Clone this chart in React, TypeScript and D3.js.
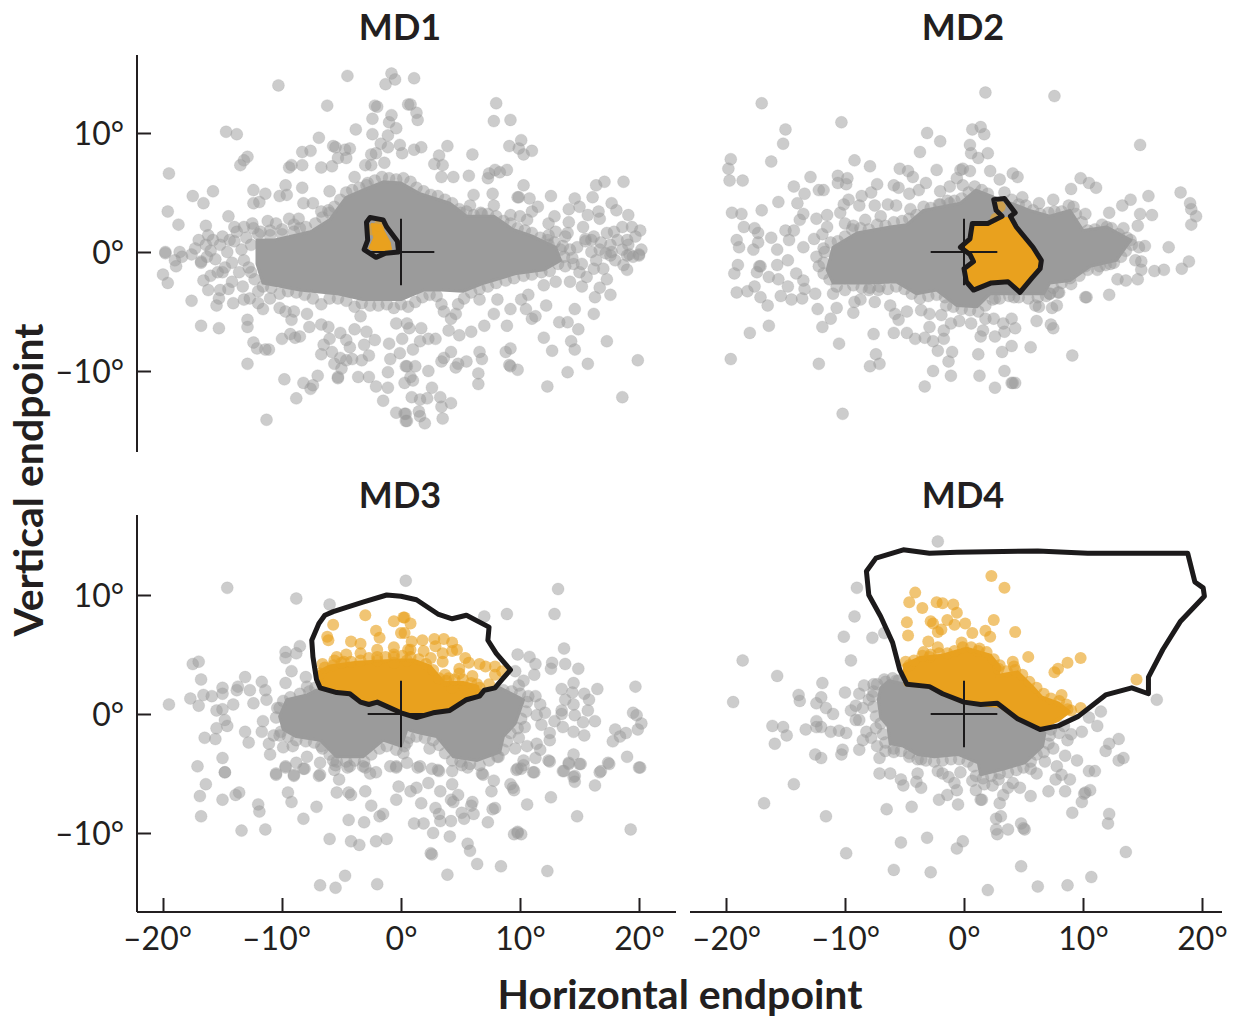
import React, { useEffect, useRef } from 'react';
import * as d3 from 'd3';

type Pt = [number, number];

const panelTitles = ['MD1', 'MD2', 'MD3', 'MD4'];
const xTicks = [-20, -10, 0, 10, 20];
const yTicks = [-10, 0, 10];

// scattered endpoints, degrees
const md1Gray: Pt[] = [
  [-4.5,14.8],[-10.3,14],[-0.8,15],[-0.5,14.5],[-1.3,14.1],[-6.2,12.3],[-2.2,12.3],[-2,12.2],[0.6,12.4],[-0.8,11.5],[-2.4,11.2],[-1,10.9],[-0.4,10.4],[-3.8,10.3],[-2.4,9.9],[-14.7,10.1],[-13.8,9.9],[-1.1,9.8],[-6.9,9.6],[-1.7,9.1],[-1.1,8.8],[-0.1,9],[-5.7,8.9],[-5.5,8.8],[-4.3,8.7],[-4.7,8.6],[-8.3,8.4],[-7.6,8.5],[-12.9,8],[-13.2,7.7],[-13.5,7.3],[-5.3,7.9],[-4.6,7.9],[-2.5,8.2],[-2.1,8.3],[0.1,8.3],[-9.2,7.3],[-9.4,7.1],[-8.3,7.3],[-6.7,7.1],[-5.8,7.2],[-3,7.3],[-2.5,7.3],[-1.4,7.5],[-19.5,6.6],[-3.9,6.3],[-2.8,5.8],[-9.7,5.6],[-8.3,5.4],[-12.4,5.2],[-11.4,4.9],[-15.8,5.1],[-6,5.1],[-17.5,4.7],[-16.6,4.1],[-10.2,4.7],[-9.6,4.8],[-12.4,4.1],[-11.9,4.2],[-8.2,4.1],[-7.4,4.1],[-19.6,3.4],[-6.7,3.4],[-6,3.3],[-14.5,3],[-18.7,2.3],[-16.4,2.2],[-9.4,2.8],[-8.6,2.8],[-13.2,2.1],[-12.4,2],[-16.2,1.4],[-17,1],[-19.8,0],[-18.6,0],[-17.6,-0.2],[-14,2.1],[-14.4,1],
  [1.1,14.6],[8,12.5],[0.8,12.4],[1.3,11.7],[1.4,11.1],[7.8,11],[9.2,11.1],[10.1,9.4],[9.1,8.9],[9.9,8.7],[11,8.5],[10.3,8.2],[3.9,8.9],[1.7,8.8],[1.1,8.6],[6,8.2],[3.2,8.1],[2.8,7.4],[3.5,7.3],[8.9,6.9],[7.9,6.9],[8.3,6.7],[7.4,6.6],[7.3,6.2],[5.7,6.4],[4.4,6.3],[3.4,6.3],[10.3,5.6],[16.4,5.6],[17.1,5.9],[18.7,5.9],[6.1,4.8],[7.7,4.9],[9.9,4.6],[9.8,4.6],[10.8,4.5],[12.6,4.7],[14.6,4.5],[16.1,4.6],[15,3.8],[14.1,3.6],[11.5,3.8],[17.7,4.1],[18.1,3.5],[19.1,3.1],[16.6,3.4],[16.7,2.8],[15.7,3.1],[5.8,3.9],[7.8,3.9],[5,3.3],[6.8,3.2],[9.2,3.1],[10,3],[11,3.4],[12.9,3],[14.1,2.5],[12.4,2.4],[10.6,2.7],[15.3,2.1],[20.1,1.8],[19.4,2.1],[18.6,2.1],[17.3,1.6],[17.9,1.7],[19.7,1.3],[19,1],[16.7,0.2],[17.7,0],[19.2,-0.2],[20.2,0.2],[20,-0.2],[15.5,1.1],[16,1],[14.2,0.2],[12.4,0.6],[13.8,1.3],
  [-19.8,-0.1],[-20,-1.9],[-19.6,-2.6],[-18.9,-1.2],[-19,-0.7],[-18.4,-0.4],[-16.8,-0.8],[-16.3,-0.4],[-16.6,-2.4],[-16,-2],[-16.2,-3.2],[-15.4,-1.7],[-15,-1.7],[-17.6,-4.1],[-15.5,-4.5],[-15.3,-3.9],[-15.2,-3.2],[-14.5,-3.1],[-14.1,-4.3],[-14.2,-2.5],[-13.3,-2.9],[-13.2,-4],[-12.7,-3.9],[-12,-3.3],[-12,-4.3],[-11.6,-4.8],[-11,-3.9],[-16.8,-6.2],[-15.3,-6.4],[-12.9,-5.7],[-12.9,-6.3],[-12.4,-7.6],[-12.1,-8.1],[-11.4,-8.2],[-11.1,-8.2],[-12.9,-9.4],[-9.8,-10.7],[-8.2,-11],[-8.8,-12.3],[-7.6,-11.5],[-7.4,-11.2],[-7,-10.4],[-11.3,-14.1],[-10,-7.3],[-9.3,-6.9],[-8.9,-7.2],[-8.5,-7.1],[-7.7,-6.3],[-10.2,-4.7],[-9.7,-5],[-9,-5],[-9.2,-5.7],[-7.9,-5.2],[-6.7,-6.1],[-6.1,-6.3],[-6,-7.3],[-6.5,-7.8],[-5.1,-6.8],[-4.6,-7.4],[-4.3,-8],[-6.7,-8.6],[-5.8,-8.4],[-5.6,-9.4],[-5.1,-8.9],[-4.6,-9.1],[-4.1,-9],[-5,-9.8],[-5.3,-10.6],[-5.3,-10.5],[-3.6,-10.5],[-2.7,-10.5],[-2.1,-11.3],[-1.1,-10.1],[-1.1,-11.4],[-1.5,-12.5],[-0.4,-13.5],[0.3,-13.6],[0.4,-14.2],[0.3,-11],[0.4,-9.6],[-0.9,-9],[-0.1,-8.5],[-1,-7.7],[-2.2,-7.4],[-3.1,-7.8],[-3.3,-9.1],[-2.7,-8.7],[-3.9,-6.5],[-2.9,-6.7],[-3.4,-5.4],[-0.4,-6],[0.1,-7.3],[0.5,-6],
  [0.7,-6.4],[1.7,-6.4],[0.5,-9.6],[1.2,-9.6],[2.3,-10],[0.8,-10.5],[1,-10.8],[2.6,-11.4],[0.9,-12.2],[1.6,-12.4],[2.2,-12.3],[3.3,-12.2],[4.2,-12.7],[3.4,-13],[3.5,-14],[1.5,-13.4],[1.6,-13.8],[0.4,-13.6],[0.5,-14.2],[2,-14.4],[2.9,-7.3],[2.3,-7.3],[1.6,-7.5],[1,-8.2],[4,-6.6],[4.9,-7],[5.9,-6.7],[7,-6.2],[4.2,-8.4],[3.4,-9.2],[3.6,-8.9],[4.8,-9.4],[5.5,-9.2],[4.6,-9.7],[6.6,-8.4],[6.8,-9],[6.5,-10.2],[6.5,-11.1],[8.8,-8.4],[9.2,-8.1],[9.2,-9.6],[9.1,-9.5],[9.8,-9.9],[8.9,-6.2],[9.2,-4.8],[10.5,-4.8],[11,-5.6],[11.3,-5.4],[12.2,-4.5],[12,-7.2],[12.7,-8.3],[13.3,-5.9],[14,-5.9],[14.9,-6.5],[14.6,-4.8],[16.2,-5.2],[14.3,-7.5],[14.6,-8.2],[15.7,-9.4],[14,-10.1],[12.3,-11.3],[17.3,-7.5],[19.9,-9.1],[18.6,-12.2],[17.6,-3.6],[16.3,-3.8],[16.7,-3],[17.3,-2.3],[17,-1.4],[19,-1.5],[18.7,-1.1],[20,-0.3],[19,-0.3],[17.6,-0.3],[14.5,-1],[14.2,-2.5],[13,-2.5],[12,-2.8],[15.2,-2.9],[15.6,-2.1],[16.2,-1.4],[10.7,-3.6],[10.1,-4],[8.1,-4],[7.8,-5.2],[6.6,-4],
  [-16.4,0.6],[-16,0.1],[-15.6,-0.6],[-15.2,0.6],[-15,1.3],[-14.6,0],[-14.2,-0.9],[-14,0.9],[-13.8,1.7],[-13.4,0.2],[-13.2,-0.7],[-13,1.2],[-12.8,-1.3],[-12.6,0.6],[-17.3,0.3],[-16.8,-0.9],[-15.8,1],[-14.8,-1.3],[-13.6,-1.7],[-12.5,2.4],[-11.8,1.7],[-11,1.8],[-10,1.9],[-9,2.3],[-8.5,2],[-11.2,2.6],[-10.5,2.4],
  [13.6,0.5],[14,1.6],[14.4,-0.5],[14.8,0.4],[15.2,-1],[15.5,0.9],[16,0],[16.2,1.3],[16.4,-0.7],[16.8,0.8],[17.2,-0.1],[17.6,0.6],[18,-0.7],[18.2,1],[18.6,0.2],[19.1,0.6],[19.5,-0.4],[13,1.7],[12.4,1.4],[13.8,-1.2],[15,-1.7],
];

const md2Gray: Pt[] = [
  [-17,12.5],[-10.3,10.9],[-15,10.3],[-15.2,9.1],[-3.1,10],[-2,9.3],[-3.7,8.4],[-19.6,7.8],[-16.2,7.6],[-19.8,7],[-9.2,7.7],[-7.9,7.2],[-19.7,6],[-18.6,6],[-5.4,7],[-4.7,6.8],[-4.3,6.3],[-2.3,6.9],[-0.3,6.9],[-12.9,6.3],[-10.6,6.4],[-9.8,6.2],[-10.6,5.8],[-9.9,5.7],[-14.3,5.5],[-13.4,4.9],[-12.2,5.2],[-11.8,5.2],[-7.3,5.7],[-5.9,5.6],[-5.5,5.4],[-3.2,5.8],[-3.8,5.2],[-4.6,4.9],[-7.8,5],[-8.6,4.7],[-9.7,4.4],[-10.1,4],[-15.6,4.2],[-17,3.5],[-19.5,3.3],[-18.7,3.2],[-14,4.1],[-10.4,3.3],[-11.5,3.1],[-13.5,3.2],[-13.8,2.7],[-8.8,3.9],[-7.5,3.9],[-6.4,4],[-5.7,3.9],[-4.5,3.6],[-2,5.1],[-1.2,5.5],[-2,4],[-1.2,4.1],[-18.5,2.1],[-17.6,2],[-17.3,1.6],[-19.1,1],[-18.9,0.4],[-17.3,0.8],[-17.7,0.2],[-16.2,1.2],[-15,1.8],[-14.3,1.8],[-14.7,1],[-12.4,2.8],[-11.5,2.1],[-10,2.4],[-9.3,2.2],[-8.3,2.7],[-7,3],[-19,-1.1],[-17.2,-1.2],[-15.7,-1.1],[-15.7,0.2],[-14.8,-0.7],[-13.5,0.4],
  [1.8,13.4],[7.6,13.1],[0.7,10.3],[1.4,10.5],[1.7,9.9],[0.5,9],[0.6,8.3],[1.2,7.9],[2,8.3],[14.8,9],[-0.1,7],[2.2,6.8],[0.5,6.8],[-0.6,6.2],[-0.1,5.6],[3,6.1],[4.1,6.6],[4.5,6.3],[9.8,6.2],[10.5,5.8],[11.1,5.4],[9,5.3],[18.2,5],[15.5,4.7],[14,4.4],[13.3,3.9],[19,4.1],[19.1,3.6],[19.5,3],[19.1,2.3],[12.2,3.3],[14.8,3.2],[15.8,3.1],[14.6,2.2],[13.4,2],[7.5,4.4],[4.9,4.6],[6.3,4.1],[7.1,3.3],[9.2,3.8],[10.2,3.2],[17.2,0.4],[15.2,0.5],[14.7,0.4],[14,1],[18.9,-0.8],[18.3,-1.4],[16.8,-1.5],[16,-1.6],[14.9,-0.8],[14.9,-1.5],[14.4,-0.7],[14.6,-2.3],[12.9,-2.3],[13.6,-2.4],[12.2,-3.6],[10.3,-3.8],[8,-3.4],[7.2,-3.5],[8.9,-2.2],[11.1,1.3],[12,2.1],[10.2,-1.2],[11.4,-1.2],[12.3,-1],
  [-19.3,-1.8],[-17.4,-1.7],[-17.1,-1.2],[-16.4,-2.1],[-15.6,-2.3],[-19.1,-3.4],[-18.2,-3.3],[-17.6,-2.9],[-17.1,-3.8],[-16.5,-4.5],[-15.4,-3.7],[-14.8,-2.9],[-14.5,-4],[-13.6,-3.9],[-12.5,-3.5],[-13.4,-3.1],[-14.1,-1.8],[-13.5,-2.4],[-12.3,-4.8],[-10.7,-4.7],[-11.2,-5.6],[-11.9,-6.3],[-16.4,-6.2],[-18,-6.8],[-19.6,-9],[-10.5,-7.7],[-12.2,-9.4],[-7.6,-6.9],[-7.4,-8.6],[-7.1,-9.4],[-7.9,-9.6],[-10.2,-13.6],[-5.9,-6.8],[-4.8,-6.8],[-4.1,-7.3],[-3.3,-7.2],[-2.6,-7.5],[-1.7,-7.3],[-2.2,-8.3],[-1,-8.4],[-1.3,-9.2],[-2.6,-10],[-1.1,-10.4],[-3.3,-11.3],[1.2,-8.6],[1.3,-10.4],[2.6,-11.4],[3.4,-10],[4,-11],[4.1,-11],[4.3,-11],[3.2,-8.4],[4,-7.9],[5.6,-8],[9.1,-8.7],[2.6,-7.1],[1.4,-7.1],[1.6,-6.6],[4.3,-6.4],[3.4,-6.7],[6.1,-5.8],[7.5,-6.4],[7.3,-6.1],[0.6,-6],[-0.4,-5.8],[-1.1,-6],[-1.7,-6.6],[-2.9,-6.3],[1.8,-5.6],[2.5,-5.6],[4,-5.6],[3.3,-6],[-9.3,-5.1],[-7.5,-4.2],[-9.2,-4.2],[-8.7,-4],[-6.2,-4.5],[-5.8,-5.2],[-5.5,-5.7],[-4.8,-5],[-3.6,-4.9],[-2.9,-5.2],[-1.9,-5.3],[-1.5,-4.5],[6,-4.5],[6.3,-4.6],[7.4,-4.7],[7.8,-4.5],[10.2,-3.8],[7.9,-3.4],[7.2,-3.5],[4.2,-3.8],[2.6,-3.9],[-11,-3.5],[-8,-3.2],[-7.2,-3.2],
  [-11.8,0.3],[-12.4,-0.4],[-12.2,-1.2],[-12.6,1.1],[-11.9,1.5],
];

const md3Gray: Pt[] = [
  [-14.6,10.6],[-8.8,9.7],[-6,9.2],[0.4,11.2],[-8.5,5.7],[-9.7,5.2],[-9.7,4.7],[-8.8,5.1],[-17.5,4.2],[-17,4.4],[-9.2,3.6],[-16.8,2.9],[-13.1,3.1],[-11.7,2.7],[-9.7,2.6],[-8,3.1],[-7.9,2.3],[-19.5,0.8],[-17.7,1.3],[-17,0.7],[-16.6,1.6],[-15.9,1.5],[-15,2.2],[-15,1.7],[-13.7,2.3],[-13.8,2],[-12.7,2],[-14.1,0.8],[-15.5,0.3],[-15,0.4],[-11.4,2],[-12.4,0.9],[-11.3,1.2],[-10.4,0.5],[-14.8,-0.5],[-15.5,-1.2],[-14.6,-1],[-16.5,-2],[-15.6,-2.1],[-13.1,-1.5],[-12.8,-2.4],[-11.7,-1.5],[-11.6,-0.6],[-10.7,-1.8],[-10.2,-1.8],[-11.1,-2.5],[-9.9,-2.8],[-9.1,-2.7],[-11,-3.4],[-7.9,-3.6],[-17.1,-4.4],[-15,-3.7],[-14.8,-4.9],[-8.8,-4.1],[-9.7,-4.5],[-10.5,-5.1],[-9,-5.1],[-8.2,-4.6],[-6.8,-4.1],[-6.8,-5.1],[-5.7,-3.9],[-5.6,-4.7],[-4.3,-4.4],[-3.2,-4.4],[-2.6,-5],[-0.9,-4.4],[-0.4,-4.4],[0.2,-3.3],[-6.7,-2.7],
  [13.2,10.5],[7,8.2],[8.9,8.4],[12.9,8.4],[13.7,5.5],[9.8,5],[10.8,4.8],[11.3,4.2],[12.7,4.3],[12.6,3.8],[13.8,4.2],[14.9,3.8],[9.6,3.6],[11.2,3.3],[10.3,2.8],[9.9,2.4],[14.5,2.6],[13.5,2.1],[16.5,2.1],[19.7,2.3],[14.4,1.8],[15.4,1.7],[10.7,1.5],[11.3,1.5],[15.8,1.2],[13.8,1.2],[11.7,0.8],[14.5,0.8],[12.1,0.1],[11.4,-0.1],[13.5,0.3],[13.5,0],[15.7,0.3],[14.6,-0.1],[15.3,-0.7],[16.3,-0.6],[11.8,-0.9],[12.9,-0.6],[13.6,-1.1],[10.4,-1.1],[19.5,0.1],[19.8,-0.1],[20.2,-0.8],[19.9,-1.3],[18,-1.3],[18.9,-1.6],[18.4,-1.9],[17.8,-2.3],[14.5,-1.5],[15.4,-1.8],[12.5,-1.6],[12.5,-2.2],[9.9,-2],[10.6,-2.7],[9.6,-2.9],[11.4,-2.5],[11.7,-3],[11.3,-3.7],[8.1,-3.6],[12.4,-3.9],[14.5,-3.4],[14.1,-4.1],[15,-4.2],[13.6,-4.8],[10.3,-3.9],[10.1,-4.6],[11.1,-4.9],[9.7,-4.7],[14.5,-5.3],[19,-3.6],[17.4,-4.1],[16.7,-4.9],[20,-4.5],[4.3,-4.8],[3.1,-4.7],[1.6,-4.4],[0.5,-4.1],[2.4,-2.9],[0.5,-2.4],[6.8,-5],
  [-14.8,-4.9],[-16.4,-5.9],[-16.9,-6.9],[-15,-7.2],[-13.9,-6.8],[-13.6,-6.6],[-16.8,-8.6],[-13.4,-9.8],[-11.4,-9.7],[-12,-7.6],[-11.9,-8.2],[-10.5,-5],[-9.7,-4.4],[-9,-5.2],[-8.1,-4.6],[-6.9,-5.2],[-9.5,-6.6],[-9.2,-7.4],[-7.1,-7.8],[-8.2,-8.8],[-5.2,-5.5],[-5.4,-6.6],[-4.4,-6.6],[-4.2,-6.8],[-3,-6.5],[-2.5,-7.7],[-4.4,-8.9],[-3.1,-9.1],[-1.8,-8.6],[-1.5,-8.4],[-0.4,-7.2],[-0.2,-6.1],[0.8,-6.5],[1.3,-6.2],[2.3,-5.8],[1.7,-7.5],[1.1,-9.2],[1.9,-9.2],[2.7,-10],[4.1,-10.3],[-6,-10.5],[-4.2,-10.7],[-3.5,-11],[-2.1,-10.7],[-1.2,-10.5],[-4.7,-13.6],[-6.8,-14.4],[-5.5,-14.6],[-2,-14.3],[2.6,-11.8],[2.5,-11.7],[5.6,-10.9],[5.8,-11.5],[6.4,-12.6],[8.4,-12.8],[3.9,-13.5],[12.3,-13.2],[9.8,-9.9],[9.5,-10.1],[10.1,-10.1],[9.8,-10],[19.3,-9.7],[14.8,-8.6],[12.6,-7],[10.6,-7.6],[9.5,-6.4],[9.2,-5.9],[9.4,-6.2],[7.8,-5.6],[7.6,-6.5],[7.9,-7.9],[7.7,-8],[7.3,-9.1],[6.1,-8.4],[6,-7.4],[5.9,-7.7],[4.2,-7.2],[4.4,-7.4],[4.8,-6.8],[4.3,-5.9],[2.9,-7.9],[3.2,-8.4],[3.3,-9],[4.2,-9],[5.1,-8.3],[5.3,-8.8],[3.3,-6.5],[16.3,-6],[20.1,-4.5],[17.5,-4.2],[16.8,-4.8],[15.1,-4.2],[14.1,-4.2],[13.7,-4.8],[14.6,-5.2],[14.6,-5.7],[12.5,-4],[11.2,-4.9],[9.8,-4.6],[10.3,-4.3],[6.9,-5.1],[5.1,-4.3],[5.6,-4.5],[2.6,-4.6],[3.2,-4.8],[1.4,-4.5],[-0.4,-4.5],[-2.1,-4.9],[-3,-4.5],[-4.5,-4.5],[-5.5,-4.3],
];

const md4Gray: Pt[] = [
  [-2.2,14.5],[-9,10.6],[-9.2,8.2],[-10.1,6.5],[-7.7,6.4],[-6.7,6.8],[-18.6,4.5],[-9.5,4.5],[-15.7,3.2],[-11.9,2.6],[-19.4,1],[-13.9,1.6],[-13.8,1.1],[-12,1.4],[-12.4,0.9],[-10,1.8],[-11.6,0.5],[-11,0],[-16.1,-1],[-15.2,-1.1],[-14.9,-1.8],[-15.9,-2.5],[-13.3,-1.3],[-12.4,-0.6],[-12.4,-1.1],[-12,-1.1],[-11.2,-1.5],[-10.5,-1.4],[-9.9,-1.6],[-9.5,0.3],[-9.1,-0.5],[-9.1,0.7],[-8.4,2.4],[-7.6,2.5],[-8.8,1.7],[-6.6,2.7],[-5.7,2.8],[16.2,1.2],[11.5,0.2],[10.5,-0.3],[11.2,-1],[9.9,-1.5],[8.7,-2.2],[9,-1.7],[13,-2.1],[12.2,-2.5],
  [-12.5,-3.4],[-12,-3.7],[-10.2,-3],[-10.3,-3.4],[-8.8,-3],[-7.1,-3.7],[-14.3,-5.9],[-16.8,-7.5],[-11.6,-8.6],[-7.1,-5],[-6.2,-5],[-5.9,-3.2],[-4.6,-3.6],[-3.6,-3.8],[-5.3,-5.5],[-5.1,-6],[-3.9,-5],[-4,-5.7],[-3.6,-6.2],[-2.2,-4.8],[-1.8,-5],[-1.3,-5.3],[-0.8,-5.8],[-0.6,-6.4],[-1.4,-6.8],[-2.1,-7.2],[-0.5,-7.6],[-6.5,-8],[-4.4,-7.8],[-0.3,-4.9],[0.7,-5.6],[1.7,-5.9],[2.4,-6],[2.9,-5.5],[1,-6.4],[1.4,-7.2],[1.5,-7.2],[3.3,-6.8],[3,-7.5],[3.7,-6.2],[4.1,-5.8],[4.7,-6.2],[5.6,-6.9],[7.1,-6.5],[8.5,-6.5],[7.7,-5.5],[8.9,-5.5],[8.2,-5.1],[7.8,-4.4],[6.1,-5],[5.6,-4.6],[6.8,-4],[8.5,-3.5],[9.5,-3.9],[7.5,-2.9],[10.5,-4.8],[11,-4.8],[11.9,-3.1],[13,-3.9],[13.4,-3.7],[10.6,-6.4],[10.1,-6.7],[10.2,-6.6],[9.9,-7.4],[9.1,-8.3],[12.2,-8.4],[12.1,-9.2],[3.1,-8.6],[2.7,-8.8],[3.7,-9.7],[2.7,-9.7],[2.8,-10.1],[4.8,-9.2],[5.1,-9.7],[5,-9.6],[-5.3,-10.8],[-3.1,-10.4],[-0.1,-10.7],[-0.6,-11.3],[-9.9,-11.7],[-5.9,-13.1],[-2.8,-13.3],[13.6,-11.6],[4.8,-12.8],[2,-14.8],[6.2,-14.5],[8.7,-14.4],[10.7,-13.7],
  [-8.5,0.5],[-8.8,-0.5],[-8.2,-1.5],[-7.8,-2],[-8.5,-2.2],[-8,1.2],[-7.6,1.9],[-7.4,-1.2],[-7.3,-2.7],[-6.6,-3.1],
];

// points along the rim of each overplotted middle
const md1Rim: Pt[] = [
  [-12,1.5],[-11,1.4],[-10,1.5],[-9,1.7],[-8,2.1],[-7.2,2.4],[-6.6,2.9],[-6.1,3.5],[-5.6,3.8],[-5.1,4.4],[-4.6,5],[-4.1,5.2],[-3.5,5.4],[-2.9,5.6],[-2.2,6],[-1.6,6.3],[-1,6.2],[-0.4,6.1],[0.2,6.2],[0.8,5.9],[1.3,5.4],[1.9,5.1],[2.5,4.8],[3.1,4.7],[3.7,4.4],[4.3,4.1],[4.9,3.6],[5.5,3.4],[6.1,3.1],[6.7,3.3],[7.3,3.2],[8,3],[8.6,2.6],[9.2,2.4],[9.8,2],[10.4,1.8],[11,1.6],[11.7,1.2],[12.3,1],[12.9,0.8],[13.4,0.2],[13.7,-0.4],
  [13.2,-1],[12.5,-1.6],[11.8,-1.7],[11,-1.9],[10.3,-2],[9.5,-2.2],[8.8,-2.4],[8,-2.6],[7.3,-2.9],[6.6,-3.1],[5.9,-3.4],[5.3,-3.9],[4.8,-4.4],[4.6,-5.2],[4.2,-5.6],[3.6,-5],[3.4,-4.4],[3,-3.7],[2.4,-3.6],[1.8,-3.8],[1.2,-4.2],[0.6,-4.6],[0,-4.4],[-0.6,-4.7],[-1.2,-4.4],[-1.9,-4.5],[-2.6,-4.5],[-3.3,-4.3],[-3.9,-4.6],[-4.6,-4.1],[-5.3,-3.9],[-6,-3.9],[-6.7,-4.4],[-7.4,-3.9],[-8.1,-3.6],[-8.8,-3.4],[-9.5,-3.3],[-10.2,-3.5],[-10.9,-3],[-11.6,-2.9],[-12.3,-2.3],[-12.6,-1.7],
];
const md2Rim: Pt[] = [
  [-11.8,-0.9],[-11.7,0],[-11.2,0.8],[-10.6,0.9],[-10,1.3],[-9.4,1.9],[-8.7,2],[-8,1.9],[-7.3,2.3],[-6.6,2.2],[-5.9,2.5],[-5.2,2.6],[-4.6,2.8],[-4,3.1],[-3.4,3.8],[-2.8,3.7],[-2.1,4],[-1.4,4.3],[-0.8,4.3],[-0.2,4.5],[0.4,5],[0.9,5.5],[1.5,5.2],[2,4.9],[3.4,5],[4,4.4],[4.6,4],[5.2,3.9],[5.8,3.5],[6.4,3.2],[7.6,3.4],[8.2,3.4],[8.8,3.9],[9.4,3.2],[9.9,2.5],[10.4,1.8],[11,1.9],[11.6,2.3],[12.4,2],[13,1.5],[13.7,1.2],[14.1,0.6],[13.6,0.1],[13.2,-0.4],[12.6,-0.9],[11.9,-1.1],[11.2,-1.5],[10.4,-1.5],[9.7,-2],[9,-2.7],[8.2,-2.6],[7.5,-3],[6.9,-3.7],[6.2,-3.8],[5.4,-3.9],[4.6,-3.8],[3.8,-3.7],[3,-3.9],[2.4,-4],[1.8,-4.5],[1.2,-5],[0.5,-4.9],[-0.2,-4.8],[-0.9,-4.6],[-1.6,-3.8],[-2.3,-3.6],[-3,-3.7],[-3.7,-3.9],[-4.4,-3.5],[-5,-3.1],[-5.7,-2.9],[-6.4,-3.1],[-7.1,-2.9],[-7.9,-3],[-8.6,-3],[-9.3,-2.8],[-10,-3.2],[-10.7,-2.9],[-11.3,-2.3],[-11.8,-1.8],
];
const md3Rim: Pt[] = [
  [-10.5,-0.3],[-10.2,0.5],[-9.9,1.1],[-9.3,1.4],[-8.5,1.7],[-7.7,1.9],[-7.2,2.2],[8.6,2],[9.3,1.9],[10,1.7],[10.6,1],[10.5,0.2],[10.1,-0.4],[9.8,-1.2],[9.2,-1.6],[8.9,-2.3],[8.6,-3],[8.2,-3.6],[7.4,-3.9],[6.6,-4.3],[5.8,-4.2],[5,-4],[4.3,-3.9],[3.7,-3.3],[3.2,-2.6],[2.7,-2.2],[2,-2],[1.3,-1.9],[0.7,-2],[0.3,-2.7],[-0.4,-3],[-1.2,-2.7],[-1.8,-2.9],[-2.5,-3.4],[-3.1,-4],[-3.9,-3.9],[-4.6,-4],[-5.4,-4],[-6,-3.4],[-6.6,-2.9],[-7.3,-2.4],[-8,-2.3],[-8.8,-2.2],[-9.5,-1.9],[-10.1,-1.5],
];
const md4Rim: Pt[] = [
  [-6.7,2.9],[-6,3],[-5.5,2.8],[-7.3,2.5],[-7.7,1.5],[-7.6,0.6],[-7.4,-0.2],[-7,-0.8],[-6.8,-1.7],[-6.6,-2.4],[-5.9,-2.9],[-5.3,-3.1],[-4.6,-3.3],[-3.9,-3.8],[-3.2,-3.9],[-2.5,-4],[-1.8,-3.9],[-1.1,-3.8],[-0.4,-3.8],[0.3,-4],[0.8,-4.4],[1,-5.2],[1.6,-5.4],[2.3,-5.2],[3,-5],[3.7,-4.9],[4.4,-4.7],[5,-4.5],[5.6,-4],[6.1,-3.4],[6.7,-3.2],[7.1,-2.5],[7.2,-1.8],[7.3,-1.3],[8,-1.6],[8.4,-1],
];

// points that stand clear of the orange core, inside the contours
const md1Orange: Pt[] = [[-2.4,1.9],[-1.8,2.2]];
const md2Orange: Pt[] = [[3,3.8],[2.7,2.8]];
const md3Orange: Pt[] = [
  [-3,8.3],[-5.7,7.5],[-0.6,7.8],[0.2,8.1],[-2.1,7],[-1.8,6.4],[-6.2,6.5],[-6.1,6.2],[0,6.8],[-4.2,6.1],[-3.4,5.9],[-0.6,5.6],[-2,5.4],[-3.4,5.1],[-5.4,4.8],[-4.6,5],[-6.6,4.2],[-5.6,4.5],[-6.8,3.4],[-0.6,4.8],[0.6,5.4],[-2,4.5],[-0.6,4.3],[0.5,4.5],[-4.8,4.4],
  [0.3,8.1],[0.8,7.6],[0.3,6.8],[0.9,6.1],[1.8,6.2],[2.8,6.3],[3.6,6.3],[4.3,6],[0.8,5.4],[1.9,5.3],[2.9,5.7],[3.5,5.1],[4.7,5.4],[4.3,5.3],[2.5,4.7],[5.4,4.7],[5.7,4.3],[3.5,4.4],[4.9,3.8],[6.6,4.2],[7.1,4],[7.9,4],[8.5,3.6],[7.9,3.3],[6,3.2],[7.4,2.5],[4.9,3.4],[3.7,3.3],[4,3],[5.4,2.2],[4.3,2.2],[6.6,2.2],
  [-6.4,3.9],[-5.7,4.1],[-5,4.3],[-4.2,4.4],[-3.4,4.5],[-2.7,4.7],[-2,4.8],[-1.3,4.8],[-0.6,5],[0.1,4.9],[0.8,4.8],[1.5,4.6],[2.1,4.2],[2.7,3.7],[3.2,3],[3.8,2.8],[4.5,2.9],[5.2,2.9],[5.9,2.6],[6.4,2.5],
];
const md4Orange: Pt[] = [
  [2.3,11.6],[3.4,10.6],[-4.1,10.2],[-4.6,9.4],[-3.5,8.9],[-2.3,9.4],[-1.8,9.3],[-0.9,9.2],[-0.6,8.5],[-4.8,7.7],[-4.7,6.6],[-2.8,7.8],[-2.6,7.6],[-1.4,7.9],[-0.8,7.5],[0.1,7.6],[2.5,7.9],[-1.9,7.1],[-2.2,6.9],[0.7,6.8],[1.8,7],[2.2,6.5],[4.3,6.9],[-3,6.1],[-2.2,5.6],[-0.2,6],[-3.4,5.2],[1.2,5.3],[5.4,4.8],[9.8,4.7],[8.7,4.3],[7.9,3.8],[7.6,3.5],[14.5,2.9],[4.1,4.4],[4.2,4],[8.2,1.6],[9.8,0.5],[8.7,0.4],[-4.6,4.1],[2.9,3.8],[-2.9,4.8],
  [-4.9,4.4],[-4.2,4.5],[-3.5,4.9],[-2.8,5],[-2.1,5.1],[-1.4,5.1],[-0.8,5.3],[-0.1,5.6],[0.6,5.6],[1.3,5.5],[1.9,5.2],[2.5,4.6],[3,4.1],[3.6,3.6],[4.3,3.7],[4.9,3.3],[5.5,2.7],[6.1,2.2],[6.7,1.7],[7.3,1.3],[8,1.1],[8.6,0.8],[9,0.3],
];

// the overplotted middles, where single points cannot be told apart: outlines only
const md1Core: Pt[] = [[-12.1,-1],[-12.1,1],[-10.7,1],[-7.6,1.7],[-6,2.7],[-4.6,4.6],[-3.2,5.2],[-1.5,5.9],[0,5.8],[1.6,4.9],[4.1,4.1],[5.5,3],[7.8,3],[9.4,1.9],[11.1,1.3],[13,0.4],[13.4,-0.7],[12,-1.5],[9.7,-1.8],[7,-2.6],[5.2,-3.3],[3.4,-3.2],[1.9,-3.2],[0,-4],[-3.2,-4],[-5.4,-3.5],[-8.5,-3.2],[-11.6,-2.6]];
const md2Core: Pt[] = [[-11.5,-1.5],[-11,0.4],[-9,1.6],[-6.2,2.1],[-4.8,2.3],[-3.4,3.5],[-0.3,4.1],[1,5.2],[2.5,4.6],[4.2,4],[5.5,3.5],[7.2,3],[8.9,3.5],[10,1.8],[12,2.1],[14,1],[12.8,-0.7],[10.6,-1.2],[8.9,-2.4],[7.2,-2.6],[6.7,-3.5],[5,-3.5],[2.2,-3.5],[1.1,-4.6],[-0.6,-4.5],[-2.3,-3.2],[-4,-3.5],[-5.7,-2.5],[-7.9,-2.6],[-11,-2.6]];
const md3Core: Pt[] = [[-10.2,-0.2],[-9.6,1.2],[-7.9,1.6],[-7.1,2],[-5.4,1.8],[0,1],[8.3,2.2],[10.3,1.2],[9.6,-0.8],[8.6,-1.9],[8.3,-3.2],[6.4,-3.9],[4.4,-3.6],[3,-1.9],[1.6,-1.6],[0.5,-1.3],[0,-2.7],[-1.5,-2.2],[-3.2,-3.6],[-5.4,-3.6],[-6.8,-2.2],[-8.8,-1.9],[-9.9,-1.3]];
const md4Core: Pt[] = [[-6.3,2.8],[-4.9,2.5],[-2.9,2.3],[-1.8,1.7],[0,1],[3,0.7],[6.5,-1.2],[6.8,-1.6],[6.6,-2.7],[5.1,-4.1],[3.4,-4.6],[1.4,-5.1],[1.2,-4.1],[-0.5,-3.4],[-2.5,-3.6],[-3.9,-3.4],[-5.1,-2.7],[-6.2,-2.5],[-6.4,-1],[-7,-0.3],[-7.2,1.2],[-7,2.2]];

const md1OrangeCore: Pt[] = [[-2.5,2.4],[-1.7,2.3],[-0.9,0.8],[-0.8,0.2],[-2,0],[-2.7,0.3],[-2.3,1.2]];
const md2OrangeCore: Pt[] = [[0.7,2.3],[2,2.3],[3.1,2.9],[3.9,2.9],[4.4,2.1],[5.8,0.4],[6.5,-0.7],[6.4,-1.4],[5.7,-2.2],[4.7,-3.2],[3.7,-2.5],[2.3,-2.6],[0.8,-3.1],[0.3,-2.5],[0.1,-1.4],[0.8,-0.8],[0.5,-0.2],[-0.2,0.4],[0.5,1.1]];
const md3OrangeCore: Pt[] = [[-6.9,3.5],[-6,4],[-3.7,4.3],[0,4.5],[1,4.5],[2.4,4],[3.6,2.6],[5.2,2.6],[6.4,2.3],[6.6,1.5],[5.5,1.2],[4.1,0.3],[2.7,0.1],[1.3,-0.3],[0,0.1],[-2,1],[-2.7,0.8],[-3.4,1],[-4.3,1.7],[-5.4,1.8],[-6.8,2.2]];
const md4OrangeCore: Pt[] = [[-5,4.1],[-3.7,4.7],[-1.8,4.9],[0.2,5.5],[2.2,4.9],[3,3.9],[2.8,3.2],[4.5,3.5],[5.7,2.3],[6.5,1.4],[7.9,0.9],[8.8,0.2],[7.9,-0.5],[6.5,-1.1],[4.5,-0.4],[3,0.7],[1.4,0.8],[0,1],[-1.8,1.7],[-2.9,2.3],[-4.9,2.5]];

// black contours
const md1Contour: Pt[] = [[-2.9,2.5],[-2.6,2.9],[-1.5,2.7],[-1.2,2.1],[-0.3,0.9],[-0.2,0],[-1.3,-0.1],[-2.1,-0.45],[-3.1,0.2],[-2.8,1]];
const md2Contour: Pt[] = [[2.5,4.4],[3.4,4.5],[4.3,3.3],[3.9,3],[4.4,2.1],[5.8,0.4],[6.5,-0.7],[6.4,-1.4],[5.7,-2.2],[4.7,-3.4],[3.7,-2.5],[2.3,-2.6],[0.8,-3.2],[0.2,-2.5],[0,-1.4],[0.8,-0.8],[0.5,-0.2],[-0.3,0.4],[0.5,1.1],[0.7,2.4],[2,2.4],[3.2,3],[2.7,3.5]];
const md3Contour: Pt[] = [[-1.2,10],[-3.2,9.4],[-5.7,8.6],[-6.4,8.3],[-6.9,7.6],[-7.5,6.2],[-7.4,4.8],[-7.1,2.9],[-6.8,2.2],[-5.4,1.8],[-4.3,1.7],[-3.4,1],[-2.7,0.8],[-2,1],[0,0.1],[1.3,-0.3],[2.7,0.1],[4.1,0.3],[5.5,1.2],[6.6,1.5],[7,2],[7.9,2.2],[8.5,2.9],[9.2,3.7],[8,5.1],[7.3,6.2],[7.4,7.3],[5.5,8.3],[4.3,8],[3.1,8.4],[1.3,9.6],[0,9.9]];
const md4Contour: Pt[] = [[-4.8,2.5],[-2.9,2.3],[-1.8,1.7],[0,1],[1.4,0.8],[2.8,0.9],[4.5,-0.4],[6.4,-1.3],[7.9,-1],[9.6,-0.2],[11.9,1.6],[14.1,2.2],[15.5,1.7],[15.5,3.1],[16.7,5.4],[18.2,7.8],[20.2,9.9],[20.1,10.6],[19.4,11.1],[18.8,13.5],[10.4,13.5],[6.2,13.7],[-0.6,13.6],[-2.9,13.5],[-5.1,13.8],[-7.4,13.1],[-8.2,12],[-8,10],[-7,8.2],[-6,6],[-5.4,3.7]];

const grays = [md1Gray.concat(md1Rim), md2Gray.concat(md2Rim), md3Gray.concat(md3Rim), md4Gray.concat(md4Rim)];
const oranges = [md1Orange, md2Orange, md3Orange, md4Orange];
const cores = [md1Core, md2Core, md3Core, md4Core];
const orangeCores = [md1OrangeCore, md2OrangeCore, md3OrangeCore, md4OrangeCore];
const contours = [md1Contour, md2Contour, md3Contour, md4Contour];

const crossArm = 2.8;
const fontFamily = 'Lato, "Open Sans", sans-serif';

const degLabel = (d: number) => `${d < 0 ? '\u2013' : ''}${Math.abs(d)}\u00b0`;

export default function App() {
  const svgEl = useRef<SVGSVGElement>(null);

  useEffect(() => {
    const svg = d3.select(svgEl.current);
    svg.selectAll('*').remove();

    panelTitles.forEach((title, i) => {
      const col = i % 2;
      const row = i < 2 ? 0 : 1;
      const cx = col === 0 ? 401 : 964;
      const cy = row === 0 ? 252 : 714;
      const xScale = d3.scaleLinear().domain([-20, 20]).range([cx - 238, cx + 238]);
      const yScale = d3.scaleLinear().domain([-10, 10]).range([cy + 119, cy - 119]);
      const line = d3.line<Pt>().x((d) => xScale(d[0])).y((d) => yScale(d[1]));
      const g = svg.append('g');

      g.selectAll('circle.gray')
        .data(grays[i])
        .enter()
        .append('circle')
        .attr('cx', (d) => xScale(d[0]))
        .attr('cy', (d) => yScale(d[1]))
        .attr('r', 6)
        .attr('fill', '#999')
        .attr('fill-opacity', 0.5)
        .attr('stroke', '#999')
        .attr('stroke-opacity', 0.25)
        .attr('stroke-width', 0.8);

      g.append('path')
        .attr('d', line(cores[i]) + 'Z')
        .attr('fill', '#9b9b9b')
        .attr('stroke', '#9b9b9b')
        .attr('stroke-width', 3)
        .attr('stroke-linejoin', 'round');

      g.append('path')
        .attr('d', line(orangeCores[i]) + 'Z')
        .attr('fill', '#e9a11e')
        .attr('stroke', '#e9a11e')
        .attr('stroke-width', i < 2 ? 1 : 4)
        .attr('stroke-linejoin', 'round');

      g.selectAll('circle.orange')
        .data(oranges[i])
        .enter()
        .append('circle')
        .attr('cx', (d) => xScale(d[0]))
        .attr('cy', (d) => yScale(d[1]))
        .attr('r', 6)
        .attr('fill', '#e9a11e')
        .attr('fill-opacity', 0.62);

      g.append('path')
        .attr('d', line(contours[i]) + 'Z')
        .attr('fill', 'none')
        .attr('stroke', '#1c1a1b')
        .attr('stroke-width', 5)
        .attr('stroke-linejoin', 'round');

      const cross = g.append('g').attr('stroke', '#1c1a1b').attr('stroke-width', 2);
      cross.append('line')
        .attr('x1', xScale(-crossArm)).attr('x2', xScale(crossArm))
        .attr('y1', yScale(0)).attr('y2', yScale(0));
      cross.append('line')
        .attr('x1', xScale(0)).attr('x2', xScale(0))
        .attr('y1', yScale(crossArm)).attr('y2', yScale(-crossArm));

      g.append('text')
        .attr('x', cx - 1)
        .attr('y', row === 0 ? 40 : 508)
        .attr('text-anchor', 'middle')
        .attr('font-family', fontFamily)
        .attr('font-weight', 700)
        .attr('font-size', 36)
        .attr('fill', '#231f20')
        .text(title);

      if (col === 0) {
        const yAxis = d3.axisLeft(yScale)
          .tickValues(yTicks)
          .tickSizeInner(-14)
          .tickSizeOuter(0)
          .tickPadding(13)
          .tickFormat((d) => degLabel(+d));
        const ax = g.append('g').attr('transform', 'translate(137,0)').call(yAxis);
        ax.select('.domain')
          .attr('d', `M0,${row === 0 ? 55 : 515}V${row === 0 ? 452 : 912}`);
        ax.selectAll('line, .domain').attr('stroke', '#231f20').attr('stroke-width', 2);
        ax.selectAll('text')
          .attr('font-family', fontFamily)
          .attr('font-size', 32)
          .attr('fill', '#231f20')
          .attr('dy', '0.36em');
      }

      if (row === 1) {
        const xAxis = d3.axisBottom(xScale)
          .tickValues(xTicks)
          .tickSizeInner(-14)
          .tickSizeOuter(0)
          .tickPadding(15)
          .tickFormat((d) => degLabel(+d));
        const ax = g.append('g').attr('transform', 'translate(0,912)').call(xAxis);
        ax.select('.domain')
          .attr('d', col === 0 ? 'M137,0H676' : 'M690,0H1222');
        ax.selectAll('line, .domain').attr('stroke', '#231f20').attr('stroke-width', 2);
        ax.selectAll('text')
          .attr('font-family', fontFamily)
          .attr('font-size', 32)
          .attr('fill', '#231f20')
          .attr('dx', (d) => (col === 0 && +d < 0 ? -6 : 0));
      }
    });

    svg.append('text')
      .attr('x', 680)
      .attr('y', 1009)
      .attr('text-anchor', 'middle')
      .attr('font-family', fontFamily)
      .attr('font-weight', 700)
      .attr('font-size', 41)
      .attr('fill', '#231f20')
      .text('Horizontal endpoint');

    svg.append('text')
      .attr('transform', 'translate(43,480) rotate(-90)')
      .attr('text-anchor', 'middle')
      .attr('font-family', fontFamily)
      .attr('font-weight', 700)
      .attr('font-size', 41)
      .attr('fill', '#231f20')
      .text('Vertical endpoint');
  }, []);

  return (
    <svg
      ref={svgEl}
      width={1243}
      height={1019}
      style={{ position: 'absolute', left: 0, top: 0, background: '#fff' }}
    />
  );
}
